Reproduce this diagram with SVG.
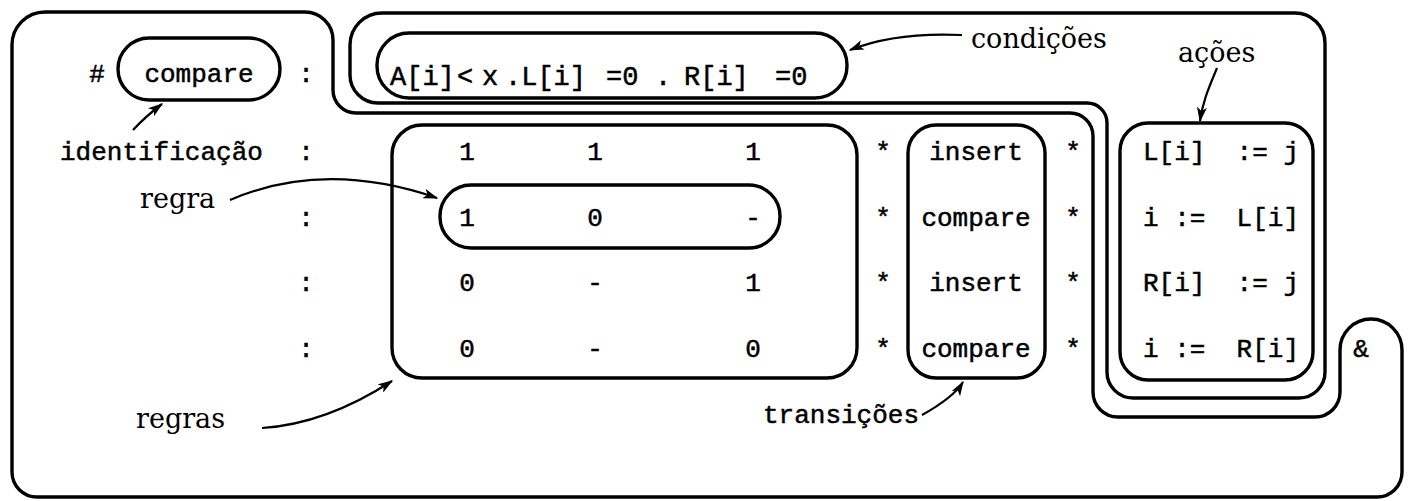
<svg xmlns="http://www.w3.org/2000/svg" width="1414" height="501" viewBox="0 0 1414 501">
<style>
.ln{fill:none;stroke:#000;stroke-width:3.4;stroke-linejoin:round}
.mono{font-family:"Liberation Mono","DejaVu Sans Mono",monospace;font-size:26px;fill:#000;stroke:#000;stroke-width:0.5}
.mid{text-anchor:middle}
.lbl{font-family:"DejaVu Serif","Liberation Serif",serif;font-size:27px;fill:#000}
.ar{fill:none;stroke:#000;stroke-width:2.2}
</style>
<defs>
<marker id="ah" viewBox="0 0 12 8" refX="11" refY="4" markerWidth="15" markerHeight="10" orient="auto" markerUnits="userSpaceOnUse">
<path d="M0,0 L12,4 L0,8 L3,4 z" fill="#000"/>
</marker>
</defs>
<rect width="1414" height="501" fill="#fff"/>

<g id="main-contour">
<path class="ln" d="M12,45 A33,33 0 0 1 45,12 H305 A28,28 0 0 1 333,40 V90 A23,23 0 0 0 356,113 H1070 A23,23 0 0 1 1093,136 V392 A25,25 0 0 0 1118,417 H1315 A25,25 0 0 0 1340,392 V350 A31,31 0 0 1 1402,350 V472 A25,25 0 0 1 1377,497 H37 A25,25 0 0 1 12,472 Z"/>
</g>

<g id="condition-action-contour">
<path class="ln" d="M350,45 A32,32 0 0 1 382,13 H1295 A30,30 0 0 1 1325,43 V372 A26,26 0 0 1 1299,398 H1133 A26,26 0 0 1 1107,372 V123 A20,20 0 0 0 1087,103 H378 A28,28 0 0 1 350,75 Z"/>
</g>

<g id="identification">
<text class="mono mid" x="97" y="82">#</text>
<rect class="ln" x="118" y="38" width="162" height="62" rx="31"/>
<text class="mono mid" x="199" y="82">compare</text>
<text class="mono mid" x="306" y="82">:</text>
<text class="mono" x="60" y="160">identificação</text>
</g>

<g id="conditions">
<rect class="ln" x="377" y="33" width="470" height="65" rx="32"/>
<text class="mono" y="85" style="font-size:27px"><tspan x="390">A[i]</tspan><tspan x="457">&lt;</tspan><tspan x="482">x</tspan><tspan x="505">.L[i]</tspan><tspan x="606">=0</tspan><tspan x="655">.</tspan><tspan x="684">R[i]</tspan><tspan x="775">=0</tspan></text>
</g>

<g id="colons">
<text class="mono mid" x="306" y="160">:</text>
<text class="mono mid" x="306" y="226">:</text>
<text class="mono mid" x="306" y="291">:</text>
<text class="mono mid" x="306" y="357">:</text>
</g>

<g id="rules">
<rect class="ln" x="392" y="125" width="465" height="253" rx="30"/>
<text class="mono mid" x="467" y="160">1</text>
<text class="mono mid" x="595" y="160">1</text>
<text class="mono mid" x="753" y="160">1</text>
<text class="mono mid" x="467" y="291">0</text>
<text class="mono mid" x="595" y="291">-</text>
<text class="mono mid" x="753" y="291">1</text>
<text class="mono mid" x="467" y="357">0</text>
<text class="mono mid" x="595" y="357">-</text>
<text class="mono mid" x="753" y="357">0</text>
</g>

<g id="rule">
<rect class="ln" x="440" y="185" width="340" height="63" rx="31"/>
<text class="mono mid" x="467" y="226">1</text>
<text class="mono mid" x="595" y="226">0</text>
<text class="mono mid" x="753" y="226">-</text>
</g>

<g id="stars">
<text class="mono mid" x="883" y="160">*</text>
<text class="mono mid" x="883" y="226">*</text>
<text class="mono mid" x="883" y="291">*</text>
<text class="mono mid" x="883" y="357">*</text>
<text class="mono mid" x="1073" y="160">*</text>
<text class="mono mid" x="1073" y="226">*</text>
<text class="mono mid" x="1073" y="291">*</text>
<text class="mono mid" x="1073" y="357">*</text>
</g>

<g id="transitions">
<rect class="ln" x="908" y="125" width="137" height="253" rx="28"/>
<text class="mono mid" x="976" y="160">insert</text>
<text class="mono mid" x="976" y="226">compare</text>
<text class="mono mid" x="976" y="291">insert</text>
<text class="mono mid" x="976" y="357">compare</text>
</g>

<g id="actions">
<rect class="ln" x="1120" y="123" width="193" height="257" rx="28"/>
<text class="mono" x="1143" y="160" xml:space="preserve">L[i]  := j</text>
<text class="mono" x="1143" y="226" xml:space="preserve">i :=  L[i]</text>
<text class="mono" x="1143" y="291" xml:space="preserve">R[i]  := j</text>
<text class="mono" x="1143" y="357" xml:space="preserve">i :=  R[i]</text>
</g>

<g id="and">
<text class="mono mid" x="1361" y="357">&amp;</text>
</g>

<g id="labels">
<text class="lbl" x="971" y="48">condições</text>
<text class="lbl" x="1178" y="62">ações</text>
<text class="lbl" x="140" y="208">regra</text>
<text class="lbl" x="136" y="428">regras</text>
<text class="mono" x="763" y="423">transições</text>
</g>

<g id="connectors">
<path class="ar" marker-end="url(#ah)" d="M133,130 Q146,116 162,104"/>
<path class="ar" marker-end="url(#ah)" d="M230,200 C300,170 370,175 437,198"/>
<path class="ar" marker-end="url(#ah)" d="M262,428 C310,425 355,405 392,381"/>
<path class="ar" marker-end="url(#ah)" d="M922,415 C940,405 955,395 963,382"/>
<path class="ar" marker-end="url(#ah)" d="M1217,68 C1210,85 1203,100 1200,121"/>
<path class="ar" marker-end="url(#ah)" d="M962,35 C920,33 880,38 850,50"/>
</g>
</svg>
